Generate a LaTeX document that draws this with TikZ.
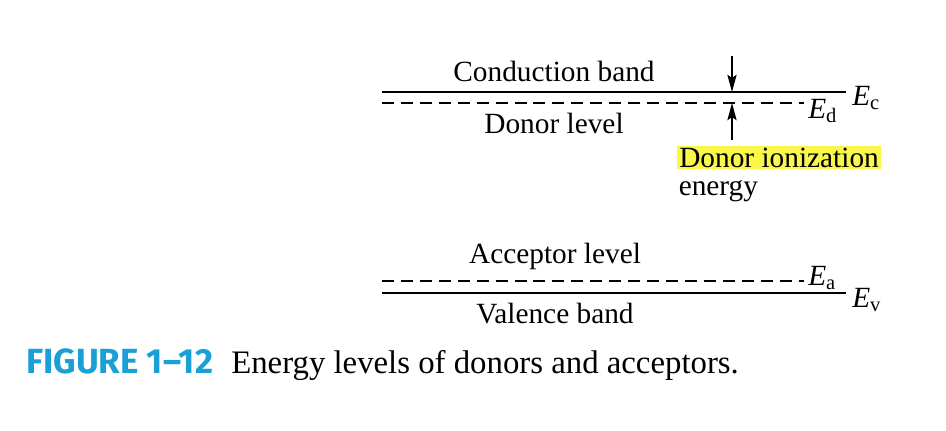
\documentclass[tikz,border=0pt]{standalone}
\usepackage{fontspec}
\setmainfont{Liberation Serif}
\newfontfamily\figfont{Fira Sans}
\usepackage{xcolor}
\usetikzlibrary{arrows.meta}
\definecolor{figcyan}{HTML}{1A9FD6}
\definecolor{hiyellow}{HTML}{FAF74B}

\begin{document}
\begin{tikzpicture}[x=0.75pt,y=-0.75pt,>={Stealth[length=13pt,width=7pt,inset=2.5pt]},
  band/.style={line width=1.8pt},
  level/.style={line width=1.1pt,dash pattern=on 9pt off 5.2pt},
  lbl/.style={font=\fontsize{22}{26}\selectfont,inner sep=0pt}]
  \useasboundingbox (0,0) rectangle (946,430);
  % conduction band and donor level
  \coordinate (Cl) at (382,92);
  \coordinate (Cr) at (846,92);
  \coordinate (Dl) at (382,103);
  \coordinate (Dr) at (804,103);
  \draw[band] (Cl) -- (Cr);
  \draw[level] (Dl) -- (Dr);
  \node[lbl,anchor=base] (cband) at (554,81) {Conduction band};
  \node[lbl,anchor=base] (dlevel) at (554,133) {Donor level};
  \node[lbl,anchor=base west] (Ec) at (852,105) {\textit{E}\textsubscript{c}};
  \node[lbl,anchor=base west] (Ed) at (808,118) {\textit{E}\textsubscript{d}};
  % ionization energy
  \coordinate (gapT) at (732,92);
  \coordinate (gapB) at (732,103);
  \coordinate (arrT) at (732,56);
  \coordinate (arrB) at (732,140);
  \draw[->,line width=0.9pt] (arrT) -- (gapT);
  \draw[->,line width=0.9pt] (arrB) -- (gapB);
  \node[lbl,anchor=base west,fill=hiyellow,inner xsep=1.5pt,inner ysep=1.5pt] (ion) at (677,167) {Donor ionization};
  \node[lbl,anchor=base west] (energy) at (678.5,195) {energy};
  % acceptor level and valence band
  \coordinate (Al) at (382,281);
  \coordinate (Ar) at (804,281);
  \coordinate (Vl) at (382,293);
  \coordinate (Vr) at (846,293);
  \draw[level] (Al) -- (Ar);
  \draw[band] (Vl) -- (Vr);
  \node[lbl,anchor=base] (alevel) at (555,263) {Acceptor level};
  \node[lbl,anchor=base] (vband) at (555,323) {Valence band};
  \node[lbl,anchor=base west] (Ea) at (808,285) {\textit{E}\textsubscript{a}};
  \node[lbl,anchor=base west] (Ev) at (852,307) {\textit{E}\textsubscript{v}};
  % caption
  \node[anchor=base west,inner sep=0pt,font=\figfont\bfseries\fontsize{26.2}{30}\selectfont,text=figcyan] (fignum) at (26,373) {FIGURE 1–12};
  \node[anchor=base west,inner sep=0pt,font=\fontsize{24.6}{29}\selectfont] (figcap) at (231,373) {Energy levels of donors and acceptors.};
\end{tikzpicture}
\end{document}
